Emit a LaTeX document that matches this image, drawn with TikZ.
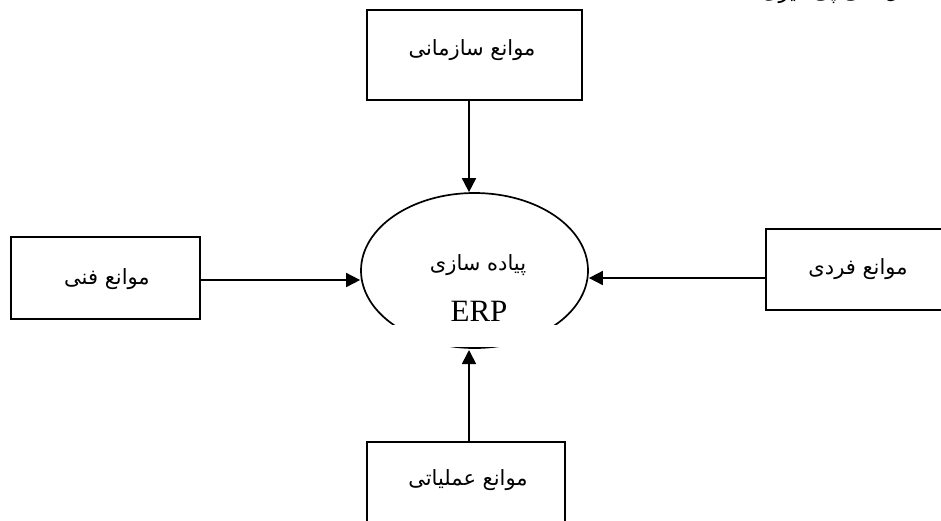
\documentclass[tikz,border=0pt]{standalone}
\usepackage{fontspec}
\setmainfont{Liberation Serif}
\newfontfamily\fa[Script=Arabic]{DejaVu Sans}
\TeXXeTstate=1
\usetikzlibrary{arrows.meta,shapes.geometric}
\begin{document}
\begin{tikzpicture}[x=1pt,y=-1pt,
  box/.style={draw,line width=2pt,rectangle,inner sep=0pt},
  oval/.style={draw,line width=1.7pt,ellipse,inner sep=0pt,minimum width=227pt,minimum height=155pt},
  arr/.style={line width=1.7pt,-{Triangle[length=14pt,width=14pt]}},
  fatext/.style={font=\fa\fontsize{21}{24}\selectfont,inner sep=0pt},
  entext/.style={font=\fontsize{31}{34}\selectfont,inner sep=0pt}]
\useasboundingbox (0,0) rectangle (941,520);
\clip (0,0) rectangle (941,520);
% cut-off line of text at the top
\node[fatext,anchor=base east] (head) at (922,-2) {\beginR مدل کلی پی گیری :\endR};
% boxes
\node[box,minimum width=215pt,minimum height=90pt] (top) at (474.5,55) {};
\node[box,minimum width=189pt,minimum height=82pt] (left) at (105.5,278) {};
\node[box,minimum width=179pt,minimum height=81pt] (right) at (855.5,269.5) {};
\node[box,minimum width=198pt,minimum height=90pt] (bot) at (466,487) {};
% box texts
\node[fatext] (ttop) at (472,50) {\beginR موانع سازمانی\endR};
\node[fatext] (tleft) at (107,279) {\beginR موانع فنی\endR};
\node[fatext] (tright) at (858,269) {\beginR موانع فردی\endR};
\node[fatext] (tbot) at (468,480) {\beginR موانع عملیاتی\endR};
% central oval, partly hidden at its bottom
\node[oval] (e) at (474.5,270.5) {};
\fill[white] (385,324.5) rectangle (568,346.5);
\node[fatext] (tpiade) at (478,265) {\beginR پیاده سازی\endR};
\node[entext] (terp) at (479,311) {ERP};
% connectors
\coordinate (vx) at (469,0);
\coordinate (hy1) at (0,280);
\coordinate (hy2) at (0,278);
\coordinate (tipb) at (469,350);
\draw[arr] (top.south -| vx) -- (e.north -| vx);
\draw[arr] (left.east |- hy1) -- (e.west |- hy1);
\draw[arr] (right.west |- hy2) -- (e.east |- hy2);
\draw[arr] (bot.north -| vx) -- (tipb);
\end{tikzpicture}
\end{document}
